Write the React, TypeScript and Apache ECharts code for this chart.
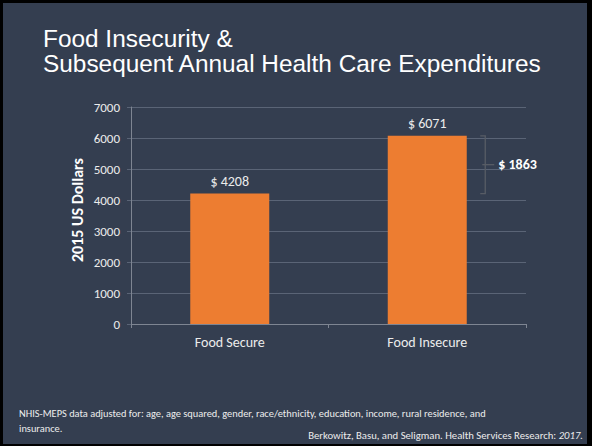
import React, { useEffect, useRef } from "react";
import * as echarts from "echarts";

const categories = ["Food Secure", "Food Insecure"];
const values = [4208, 6071];
const yTicks = { min: 0, max: 7000, interval: 1000 };
const titleLines = ["Food Insecurity &", "Subsequent Annual Health Care Expenditures"];
const axisTitle = "2015 US Dollars";
const footnoteLines = [
  "NHIS-MEPS data adjusted for: age, age squared, gender, race/ethnicity, education, income, rural residence, and",
  "insurance.",
];
const citation = "Berkowitz, Basu, and Seligman. Health Services Research: ";
const citationYear = "2017.";

const BG = "#343e50";
const ORANGE = "#ed7d31";
const LABEL = "#ececec";
const BODY_FONT = "Carlito, Lato, 'Open Sans', sans-serif";

export default function App() {
  const ref = useRef<HTMLDivElement>(null);
  useEffect(() => {
    if (!ref.current) return;
    const chart = echarts.init(ref.current, undefined, { renderer: "svg" });
    chart.setOption({
      animation: false,
      backgroundColor: BG,
      title: {
        text: titleLines.join("\n"),
        left: 38,
        top: 21,
        textStyle: {
          color: "#ffffff",
          fontFamily: "'Liberation Sans', Arial, sans-serif",
          fontWeight: "normal",
          fontSize: 24.4,
          lineHeight: 25,
        },
      },
      grid: { left: 131, right: 66, top: 107, bottom: 122 },
      xAxis: {
        type: "category",
        data: categories,
        axisLine: { lineStyle: { color: "#7e8592", width: 1 } },
        axisTick: { show: true, alignWithLabel: false, length: 4, lineStyle: { color: "#7e8592" } },
        axisLabel: { color: LABEL, fontSize: 14, margin: 11, fontFamily: BODY_FONT },
      },
      yAxis: {
        type: "value",
        min: yTicks.min,
        max: yTicks.max,
        interval: yTicks.interval,
        axisLine: { show: true, lineStyle: { color: "#7e8592" } },
        axisTick: { show: true, length: 4, lineStyle: { color: "#5a6476" } },
        splitLine: { lineStyle: { color: "#5a6476", width: 1 } },
        axisLabel: {
          color: LABEL,
          fontSize: 13,
          margin: 11,
          fontFamily: BODY_FONT,
          formatter: (v: number) => String(v),
        },
      },
      series: [
        {
          type: "bar",
          data: values,
          barWidth: "40%",
          itemStyle: { color: ORANGE },
          label: {
            show: true,
            position: "top",
            distance: 5,
            formatter: (p: any) => "$ " + p.value,
            color: LABEL,
            fontSize: 14,
            fontFamily: BODY_FONT,
          },
        },
      ],
    });

    const yTop = chart.convertToPixel({ yAxisIndex: 0 }, values[1]) as number;
    const yBot = chart.convertToPixel({ yAxisIndex: 0 }, values[0]) as number;
    const xCat = chart.convertToPixel({ xAxisIndex: 0 }, categories[1]) as number;
    const bx = xCat + 58;
    const ym = (yTop + yBot) / 2;
    const diff = values[1] - values[0];
    const bracketStyle = { stroke: "#575c65", lineWidth: 1.3 };

    chart.setOption({
      graphic: [
        {
          type: "text",
          x: 77,
          y: 210,
          rotation: Math.PI / 2,
          style: {
            text: axisTitle,
            fill: "#ffffff",
            font: `bold 16px ${BODY_FONT}`,
            textAlign: "center",
            textVerticalAlign: "middle",
          },
        },
        { type: "polyline", shape: { points: [[bx - 5, yTop], [bx, yTop], [bx, yBot], [bx - 5, yBot]] }, style: { ...bracketStyle, fill: null } },
        { type: "line", shape: { x1: bx - 3, y1: ym, x2: bx + 9, y2: ym }, style: bracketStyle },
        {
          type: "text",
          x: bx + 13,
          y: ym,
          style: {
            text: "$ " + diff,
            fill: "#ffffff",
            font: `bold 14px ${BODY_FONT}`,
            textAlign: "left",
            textVerticalAlign: "middle",
          },
        },
        {
          type: "text",
          x: 19,
          y: 413,
          style: { text: footnoteLines[0], fill: LABEL, font: `10.4px ${BODY_FONT}`, textVerticalAlign: "middle" },
        },
        {
          type: "text",
          x: 19,
          y: 428,
          style: { text: footnoteLines[1], fill: LABEL, font: `10.4px ${BODY_FONT}`, textVerticalAlign: "middle" },
        },
        {
          type: "text",
          x: 583,
          y: 435,
          style: {
            text: `{n|${citation}}{i|${citationYear}}`,
            textAlign: "right",
            textVerticalAlign: "middle",
            rich: {
              n: { fill: LABEL, font: `10.7px ${BODY_FONT}` },
              i: { fill: LABEL, font: `italic 10.7px ${BODY_FONT}` },
            },
          },
        },
      ],
    });
    return () => chart.dispose();
  }, []);

  return (
    <div style={{ position: "fixed", left: 0, top: 0, width: 592, height: 446 }}>
      <div ref={ref} style={{ width: 592, height: 446 }} />
      <div
        style={{
          position: "absolute",
          left: 0,
          top: 0,
          width: 592,
          height: 446,
          boxSizing: "border-box",
          borderStyle: "solid",
          borderColor: "#000",
          borderWidth: "3px 5px 2px 3px",
          pointerEvents: "none",
        }}
      />
    </div>
  );
}
